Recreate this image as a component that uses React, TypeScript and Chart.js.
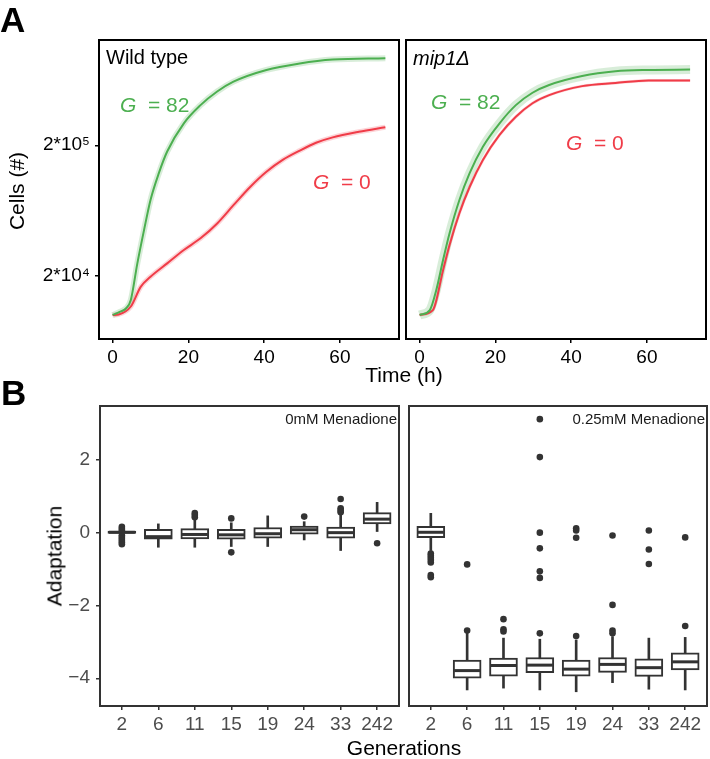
import React, { useEffect, useRef } from 'react';
import { Chart, registerables } from 'chart.js';

Chart.register(...registerables);

const FONT = '"Liberation Sans", Arial, Helvetica, sans-serif';
Chart.defaults.font.family = FONT;

// ---------- Panel A data ----------
const timeTicks = [0, 20, 40, 60];
const cellTickValues = [20000, 200000];
const cellTickLabels = ['2*10\u2074', '2*10\u2075'];

const wtG82Time = [0, 2, 3.5, 4.8, 6.5, 8.3, 10, 12.2, 14.4, 18.8, 23.2, 27.6, 31.9, 40.6, 49.4, 58.1, 72];
const wtG82Cells = [9900, 10500, 11100, 12900, 24500, 44700, 75900, 122000, 179000, 295000, 407000, 518000, 617000, 759000, 851000, 912000, 933000];

const wtG0Time = [0, 1.6, 4.8, 7.4, 10, 14.4, 18.8, 23.2, 27.6, 31.9, 36.3, 40.6, 45, 49.4, 53.7, 58.1, 65, 72];
const wtG0Cells = [9900, 10000, 11500, 16300, 19500, 24700, 31300, 38500, 50100, 69200, 95500, 125000, 155000, 182000, 209000, 230000, 254000, 275000];

const mipG82Time = [0, 2.7, 4.4, 6.2, 7.9, 10.5, 13.2, 16.7, 21.1, 25.4, 29.8, 34.2, 42.9, 51.7, 60.4, 71.4];
const mipG82Cells = [9900, 10800, 15400, 26300, 42100, 75900, 122000, 195000, 295000, 407000, 507000, 581000, 681000, 741000, 759000, 764000];

const mipG0Time = [0, 3.5, 6.2, 7.9, 10.5, 13.2, 16.7, 21.1, 25.4, 29.8, 34.2, 42.9, 51.7, 60.4, 71.4];
const mipG0Cells = [9900, 10800, 22000, 34200, 60000, 95500, 154000, 240000, 331000, 421000, 486000, 570000, 603000, 631000, 631000];

// ---------- Panel B data ----------
const generations = ['2', '6', '11', '15', '19', '24', '33', '242'];
const adaptTicks = [-4, -2, 0, 2];

const ctrlQ1 = [-0.03, -0.19, -0.18, -0.19, -0.16, -0.05, -0.16, 0.23];
const ctrlMed = [0.0, -0.12, -0.06, -0.07, -0.04, 0.07, -0.01, 0.36];
const ctrlQ3 = [0.03, 0.08, 0.1, 0.08, 0.13, 0.17, 0.14, 0.54];
const ctrlLo = [-0.06, -0.41, -0.41, -0.39, -0.39, -0.21, -0.5, 0.0];
const ctrlHi = [0.06, 0.23, 0.34, 0.26, 0.45, 0.29, 0.47, 0.82];
const ctrlOut = [
  [0.15, 0.1, 0.05, -0.08, -0.13, -0.18, -0.23, -0.28, -0.33],
  [],
  [0.53, 0.47, 0.41],
  [0.38, -0.55],
  [],
  [0.43],
  [0.91, 0.66, 0.6, 0.55],
  [-0.3],
];

const menQ1 = [-0.15, -4.0, -3.94, -3.85, -3.94, -3.84, -3.95, -3.77];
const menMed = [0.0, -3.79, -3.65, -3.64, -3.75, -3.62, -3.71, -3.55];
const menQ3 = [0.16, -3.5, -3.45, -3.43, -3.5, -3.43, -3.47, -3.3];
const menLo = [-0.5, -4.32, -4.27, -4.32, -4.37, -4.12, -4.3, -4.32];
const menHi = [0.52, -2.75, -2.9, -2.93, -2.95, -2.86, -2.9, -2.88];
const menOut = [
  [-0.58, -0.64, -0.7, -0.76, -0.83, -1.17, -1.23],
  [-0.88, -2.69],
  [-2.38, -2.66, -2.72],
  [3.1, 2.06, -0.01, -0.44, -1.07, -1.25, -2.77],
  [0.11, 0.05, -0.15, -2.84],
  [-0.09, -1.99, -2.69, -2.77],
  [0.05, -0.47, -0.87],
  [-0.14, -2.57],
];

// ---------- styles ----------
const GREEN = '#4caf50';
const GREEN_RIB = 'rgba(76,175,80,0.22)';
const RED = '#f03c48';
const RED_RIB = 'rgba(240,60,72,0.22)';
const DARK = '#333333';
const GREY = '#4d4d4d';

const makeFrame = (color: string, width: number) => ({
  id: 'frame',
  afterDatasetsDraw(chart: any) {
    const { ctx, chartArea: a } = chart;
    ctx.save();
    ctx.strokeStyle = color;
    ctx.lineWidth = width;
    ctx.strokeRect(a.left, a.top, a.right - a.left, a.bottom - a.top);
    ctx.restore();
  },
});

const pts = (xs: number[], ys: number[]) => xs.map((x, i) => ({ x, y: ys[i] }));

function curveSets(
  gT: number[], gV: number[], rT: number[], rV: number[], gRib: number, rRib: number
) {
  const common = { pointRadius: 0, cubicInterpolationMode: 'monotone' as const, fill: false };
  return [
    { ...common, data: pts(gT, gV), borderColor: GREEN, borderWidth: 2, order: 1 },
    { ...common, data: pts(rT, rV), borderColor: RED, borderWidth: 2, order: 2 },
    { ...common, data: pts(gT, gV), borderColor: GREEN_RIB, borderWidth: gRib, order: 3 },
    { ...common, data: pts(rT, rV), borderColor: RED_RIB, borderWidth: rRib, order: 4 },
  ];
}

const noRotate = { maxRotation: 0, minRotation: 0, autoSkip: false };

function curveConfig(datasets: any[], showY: boolean, padding: any): any {
  return {
    type: 'line',
    data: { datasets },
    options: {
      responsive: false,
      animation: false,
      events: [],
      layout: { padding, autoPadding: false },
      plugins: { legend: { display: false }, tooltip: { enabled: false } },
      scales: {
        x: {
          type: 'linear',
          min: -3.6,
          max: 75.6,
          offset: false,
          afterBuildTicks: (s: any) => { s.ticks = timeTicks.map((v) => ({ value: v })); },
          afterFit: (s: any) => { s.height = 33; },
          ticks: { ...noRotate, color: '#000', font: { size: 19 }, padding: 3 },
          grid: { display: true, offset: false, drawOnChartArea: false, drawTicks: true, tickLength: 4, color: '#000', lineWidth: 1.5 },
          border: { display: false },
        },
        y: {
          type: 'logarithmic',
          display: showY,
          min: 6470,
          max: 1290000,
          afterBuildTicks: (s: any) => { s.ticks = cellTickValues.map((v) => ({ value: v })); },
          afterFit: (s: any) => { s.width = showY ? 99 : 0; },
          ticks: {
            color: '#000',
            font: { size: 19 },
            padding: 5,
            callback: (v: any) => {
              const i = cellTickValues.indexOf(Number(v));
              return i >= 0 ? cellTickLabels[i] : '';
            },
          },
          grid: { display: true, drawOnChartArea: false, drawTicks: true, tickLength: 4, color: '#000', lineWidth: 1.5 },
          border: { display: false },
        },
      },
    },
    plugins: [makeFrame('#000', 2)],
  };
}

function boxConfig(
  q1: number[], med: number[], q3: number[], lo: number[], hi: number[], out: number[][],
  showY: boolean, padding: any
): any {
  const xs = generations.map((_, i) => i + 1);
  const outliers: { x: number; y: number }[] = [];
  out.forEach((arr, i) => arr.forEach((v) => outliers.push({ x: i + 1, y: v })));
  return {
    type: 'bar',
    data: {
      datasets: [
        {
          type: 'bar',
          data: xs.map((x, i) => ({ x, y: [lo[i], hi[i]] })),
          backgroundColor: DARK,
          borderWidth: 0,
          grouped: false,
          barThickness: 2,
          maxBarThickness: 2,
          order: 4,
        },
        {
          type: 'bar',
          data: xs.map((x, i) => ({ x, y: [q1[i], q3[i]] })),
          backgroundColor: '#ffffff',
          borderColor: DARK,
          borderWidth: 2,
          borderSkipped: false,
          grouped: false,
          barThickness: 28,
          maxBarThickness: 28,
          order: 3,
        },
        {
          type: 'scatter',
          data: xs.map((x, i) => ({ x, y: med[i] })),
          pointStyle: 'line',
          pointRadius: 13,
          pointBorderWidth: 3,
          pointBorderColor: DARK,
          pointBackgroundColor: DARK,
          order: 2,
        },
        {
          type: 'scatter',
          data: outliers,
          pointStyle: 'circle',
          pointRadius: 3.3,
          pointBorderWidth: 0,
          pointBackgroundColor: DARK,
          pointBorderColor: DARK,
          order: 1,
        },
      ],
    },
    options: {
      responsive: false,
      animation: false,
      events: [],
      layout: { padding, autoPadding: false },
      plugins: { legend: { display: false }, tooltip: { enabled: false } },
      scales: {
        x: {
          type: 'linear',
          min: 0.4,
          max: 8.6,
          offset: false,
          afterBuildTicks: (s: any) => { s.ticks = xs.map((v) => ({ value: v })); },
          afterFit: (s: any) => { s.height = 33; s.paddingLeft = 0; s.paddingRight = 0; },
          ticks: {
            ...noRotate,
            color: GREY,
            font: { size: 19 },
            padding: 3,
            callback: (v: any) => generations[Number(v) - 1] ?? '',
          },
          grid: { display: true, offset: false, drawOnChartArea: false, drawTicks: true, tickLength: 4, color: DARK, lineWidth: 1.5 },
          border: { display: false },
        },
        y: {
          type: 'linear',
          display: showY,
          min: -4.76,
          max: 3.46,
          afterBuildTicks: (s: any) => { s.ticks = adaptTicks.map((v) => ({ value: v })); },
          afterFit: (s: any) => { s.width = showY ? 100 : 0; },
          ticks: {
            color: GREY,
            font: { size: 19 },
            padding: 6,
            callback: (v: any) => (Number(v) < 0 ? '\u2212' + Math.abs(Number(v)) : String(v)),
          },
          grid: { display: true, drawOnChartArea: false, drawTicks: true, tickLength: 4, color: DARK, lineWidth: 1.5 },
          border: { display: false },
        },
      },
    },
    plugins: [makeFrame(DARK, 2)],
  };
}

function ChartCanvas({ left, top, width, height, make }: any) {
  const ref = useRef<HTMLCanvasElement | null>(null);
  useEffect(() => {
    if (!ref.current) return;
    const chart = new Chart(ref.current, make());
    return () => chart.destroy();
  }, []);
  return (
    <canvas
      ref={ref}
      width={width}
      height={height}
      style={{ position: 'absolute', left, top, width, height }}
    />
  );
}

const txt = (extra: any): any => ({
  position: 'absolute',
  fontFamily: FONT,
  lineHeight: 1,
  whiteSpace: 'nowrap',
  ...extra,
});

export default function App() {
  return (
    <div style={{ position: 'absolute', left: 0, top: 0, width: 710, height: 759, background: '#fff', overflow: 'hidden' }}>
      <ChartCanvas
        left={0} top={0} width={405} height={372}
        make={() => curveConfig(curveSets(wtG82Time, wtG82Cells, wtG0Time, wtG0Cells, 6, 5), true, { top: 40, right: 6, left: 0, bottom: 0 })}
      />
      <ChartCanvas
        left={403} top={0} width={307} height={372}
        make={() => curveConfig(curveSets(mipG82Time, mipG82Cells, mipG0Time, mipG0Cells, 9, 3), false, { top: 40, right: 4, left: 3, bottom: 0 })}
      />
      <ChartCanvas
        left={0} top={380} width={403} height={359}
        make={() => boxConfig(ctrlQ1, ctrlMed, ctrlQ3, ctrlLo, ctrlHi, ctrlOut, true, { top: 26, right: 4, left: 0, bottom: 0 })}
      />
      <ChartCanvas
        left={405} top={380} width={305} height={359}
        make={() => boxConfig(menQ1, menMed, menQ3, menLo, menHi, menOut, false, { top: 26, right: 3, left: 4, bottom: 0 })}
      />

      {/* Panel letters */}
      <div style={txt({ left: 0, top: 2, fontSize: 35, fontWeight: 'bold' })}>A</div>
      <div style={txt({ left: 1, top: 375, fontSize: 35, fontWeight: 'bold' })}>B</div>

      {/* Panel A annotations */}
      <div style={txt({ left: 106, top: 47, fontSize: 20, color: '#000' })}>Wild type</div>
      <div style={txt({ left: 413, top: 48, fontSize: 20, color: '#000', fontStyle: 'italic' })}>mip1Δ</div>
      <div style={txt({ left: 120, top: 94, fontSize: 21, color: GREEN })}><i>G</i>{'\u00a0\u00a0= 82'}</div>
      <div style={txt({ left: 313, top: 171, fontSize: 21, color: RED })}><i>G</i>{'\u00a0\u00a0= 0'}</div>
      <div style={txt({ left: 431, top: 91, fontSize: 21, color: GREEN })}><i>G</i>{'\u00a0\u00a0= 82'}</div>
      <div style={txt({ left: 566, top: 132, fontSize: 21, color: RED })}><i>G</i>{'\u00a0\u00a0= 0'}</div>

      {/* Panel A axis titles */}
      <div style={txt({ left: 16, top: 191, fontSize: 21, transform: 'translate(-50%,-50%) rotate(-90deg)' })}>Cells (#)</div>
      <div style={txt({ left: 404, top: 364, fontSize: 21, transform: 'translateX(-50%)' })}>Time (h)</div>

      {/* Panel B strip labels */}
      <div style={txt({ left: 197, top: 411, width: 200, textAlign: 'right', fontSize: 15, color: '#1a1a1a' })}>0mM Menadione</div>
      <div style={txt({ left: 505, top: 411, width: 200, textAlign: 'right', fontSize: 15, color: '#1a1a1a' })}>0.25mM Menadione</div>

      {/* Panel B axis titles */}
      <div style={txt({ left: 54, top: 556, fontSize: 21, transform: 'translate(-50%,-50%) rotate(-90deg)' })}>Adaptation</div>
      <div style={txt({ left: 404, top: 737, fontSize: 21, transform: 'translateX(-50%)' })}>Generations</div>
    </div>
  );
}
